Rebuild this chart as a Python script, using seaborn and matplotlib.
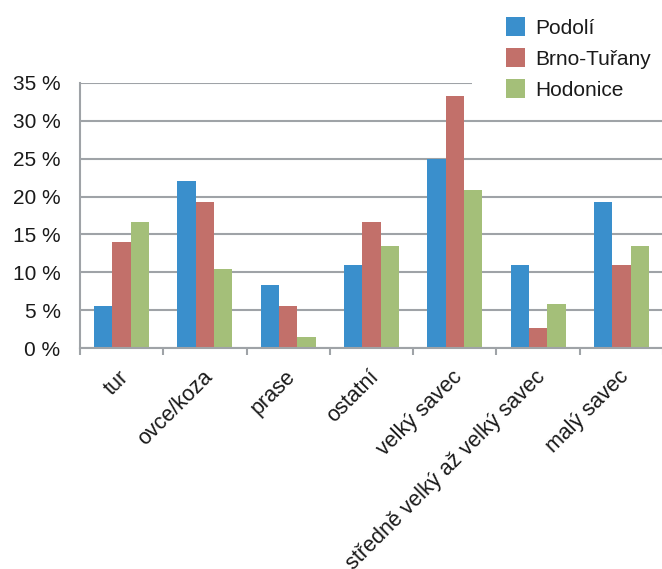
import matplotlib
matplotlib.use("Agg")
import matplotlib.pyplot as plt
import matplotlib.transforms as mtransforms
import pandas as pd
import seaborn as sns
from matplotlib.patches import Rectangle
from matplotlib.ticker import FixedLocator, FuncFormatter

categories = ["tur", "ovce/koza", "prase", "ostatní", "velký savec",
              "středně velký až velký savec", "malý savec"]
sites = ["Podolí", "Brno-Tuřany", "Hodonice"]
podoli = [5.6, 22.0, 8.3, 11.0, 25.0, 11.0, 19.3]
brno_turany = [14.0, 19.3, 5.6, 16.6, 33.3, 2.7, 11.0]
hodonice = [16.6, 10.5, 1.5, 13.5, 20.9, 5.9, 13.5]
y_ticks = [0, 5, 10, 15, 20, 25, 30, 35]
colors = ["#3A8FCC", "#C2706A", "#A4BF79"]

df = pd.DataFrame({
    "kategorie": categories * 3,
    "lokalita": [s for s in sites for _ in categories],
    "podil": podoli + brno_turany + hodonice,
})

sns.set_theme(style="white")
plt.rcParams["font.family"] = ["Liberation Sans", "DejaVu Sans"]

fig = plt.figure(figsize=(6.62, 5.69), dpi=100)
ax = fig.add_axes([80 / 662, 1 - 348.3 / 569, 583 / 662, (348.3 - 82.7) / 569])

sns.barplot(data=df, x="kategorie", y="podil", hue="lokalita", order=categories,
            hue_order=sites, palette=colors, width=0.66, linewidth=0,
            saturation=1, ax=ax, legend=True)

grid_col = "#9FA3A7"
ax.set_ylim(0, 35)
ax.set_xlim(-0.5, len(categories) - 0.5)
ax.yaxis.set_major_locator(FixedLocator(y_ticks))
ax.yaxis.set_major_formatter(FuncFormatter(lambda v, _: f"{int(v)} %"))
ax.grid(axis="y", color=grid_col, linewidth=1.5)
ax.set_axisbelow(True)
ax.set_xlabel("")
ax.set_ylabel("")

for side in ("top", "right"):
    ax.spines[side].set_visible(False)
for side in ("left", "bottom"):
    ax.spines[side].set_color(grid_col)
    ax.spines[side].set_linewidth(1.5)

ax.tick_params(axis="y", which="major", length=6, width=1.5, color=grid_col,
               direction="out", labelsize=15, pad=8, labelcolor="#1a1a1a")
ax.xaxis.set_minor_locator(FixedLocator([i - 0.5 for i in range(len(categories) + 1)]))
ax.tick_params(axis="x", which="minor", length=5, width=1.5, color=grid_col,
               direction="out", bottom=True)
ax.tick_params(axis="x", which="major", length=0, pad=13)
shift = mtransforms.ScaledTranslation(-3 / 100, 0, fig.dpi_scale_trans)
for lab in ax.get_xticklabels():
    lab.set_rotation(45)
    lab.set_ha("right")
    lab.set_va("top")
    lab.set_rotation_mode("anchor")
    lab.set_fontsize(15.5)
    lab.set_color("#1a1a1a")
    lab.set_transform(lab.get_transform() + shift)

# white background behind the legend
fig.patches.append(Rectangle((472 / 662, 1 - 88 / 569), 1, 1, transform=fig.transFigure,
                             facecolor="white", edgecolor="none", zorder=1))

handles, labels = ax.get_legend_handles_labels()
ax.legend_.remove()
fig.legend(handles, labels, loc="upper left", bbox_to_anchor=(506 / 662, 1 - 17 / 569),
           frameon=False, fontsize=15, borderpad=0, borderaxespad=0,
           handlelength=0.92, handleheight=1.03, handletextpad=0.5,
           labelspacing=0.5, labelcolor="#1a1a1a")

fig.savefig("out.png", dpi=100)
